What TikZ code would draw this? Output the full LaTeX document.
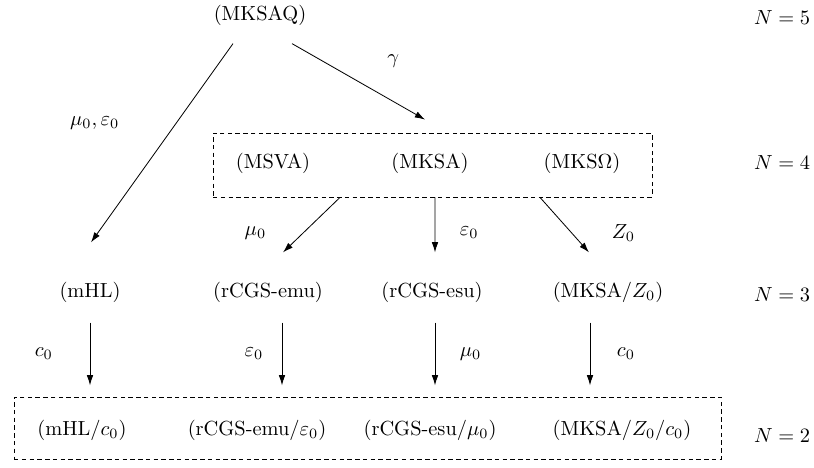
\documentclass[tikz,border=0pt]{standalone}
\usepackage{amsmath}
\usetikzlibrary{arrows.meta, fit}

\begin{document}
\begin{tikzpicture}[
  x=0.49pt, y=-0.49pt,
  sys/.style   = {inner sep=0pt},
  lbl/.style   = {inner sep=0pt},
  level/.style = {inner sep=0pt},
  frame/.style = {draw, dash pattern=on 2.2pt off 1.6pt, inner sep=0pt},
  >={Latex[length=5pt, width=3.2pt]}
]
\useasboundingbox (0,0) rectangle (814,467);
% N = 5
\node[sys] (mksaq) at (260,15) {(MKSAQ)};
\node[level] (n5) at (782,18) {$N=5$};
% N = 4
\node[sys] (msva) at (273,163) {(MSVA)};
\node[sys] (mksa) at (430,163) {(MKSA)};
\node[sys] (mkso) at (582,163) {(MKS$\Omega$)};
\node[frame, fit={(213,133) (652,197)}] (top) {};
\node[level] (n4) at (782,163) {$N=4$};
% N = 3
\node[sys] (mhl) at (90,292) {(mHL)};
\node[sys] (emu) at (268,292) {(rCGS-emu)};
\node[sys] (esu) at (432,292) {(rCGS-esu)};
\node[sys] (mz)  at (608,292) {(MKSA/$Z_0$)};
\node[level] (n3) at (782,295) {$N=3$};
% N = 2
\node[sys] (mhlc) at (82,430)  {(mHL/$c_0$)};
\node[sys] (emue) at (257,430) {(rCGS-emu/$\varepsilon_0$)};
\node[sys] (esum) at (430,430) {(rCGS-esu/$\mu_0$)};
\node[sys] (mzc)  at (622,430) {(MKSA/$Z_0$/$c_0$)};
\node[frame, fit={(14,397) (721,459)}] (bottom) {};
\node[level] (n2) at (782,436) {$N=2$};
% N=5 -> N=4, N=3
\draw[->] ([shift={(-27,18)}]mksaq.south) -- node[lbl, xshift=-33pt, yshift=10pt] {$\mu_0,\varepsilon_0$} ([shift={(1,-39)}]mhl.north);
\draw[->] ([shift={(32,18)}]mksaq.south) -- node[lbl, xshift=17pt, yshift=10pt] {$\gamma$} ([shift={(-7.5,-13)}]top.north);
% N=4 -> N=3
\draw[->] ([shift={(-92.5,0)}]top.south) -- node[lbl, left=22pt, yshift=-4pt] {$\mu_0$} ([shift={(15,-29)}]emu.north);
\draw[->] ([shift={(2.5,0)}]top.south) -- node[lbl, right=12pt, yshift=-4pt] {$\varepsilon_0$} ([shift={(3,-29)}]esu.north);
\draw[->] ([shift={(107.5,0)}]top.south) -- node[lbl, right=23pt, yshift=-4pt] {$Z_0$} ([shift={(-19,-29)}]mz.north);
% N=3 -> N=2
\draw[->] ([shift={(0,20)}]mhl.south) -- node[lbl, left=18pt] {$c_0$} ([shift={(8,-34)}]mhlc.north);
\draw[->] ([shift={(14,20)}]emu.south) -- node[lbl, left=9pt] {$\varepsilon_0$} ([shift={(25,-34)}]emue.north);
\draw[->] ([shift={(3,20)}]esu.south) -- node[lbl, right=12pt] {$\mu_0$} ([shift={(5,-34)}]esum.north);
\draw[->] ([shift={(-18,20)}]mz.south) -- node[lbl, right=13pt] {$c_0$} ([shift={(-32,-34)}]mzc.north);
\end{tikzpicture}
\end{document}
